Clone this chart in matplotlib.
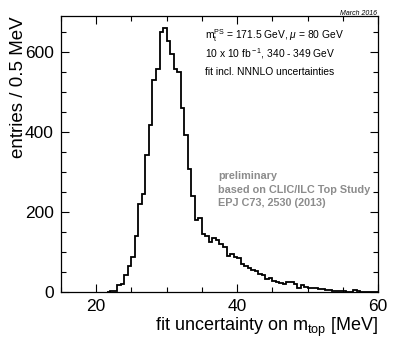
import numpy as np
import matplotlib
matplotlib.use("Agg")
import matplotlib.pyplot as plt
from matplotlib.ticker import MultipleLocator

plt.rcParams['font.family'] = ['Liberation Sans', 'DejaVu Sans']
plt.rcParams['mathtext.fontset'] = 'custom'
plt.rcParams['mathtext.rm'] = 'Liberation Sans'
plt.rcParams['mathtext.it'] = 'Liberation Sans:italic'
plt.rcParams['mathtext.bf'] = 'Liberation Sans:bold'

# histogram: 0.5 MeV bins starting at 21.5 MeV (empty elsewhere)
bin_start = 21.5
bin_width = 0.5
counts = [0, 3, 2, 17, 19, 42, 66, 87, 139, 221, 244, 342, 417, 531, 557, 650,
          661, 627, 595, 557, 550, 459, 392, 307, 240, 180, 185, 145, 141, 124,
          135, 129, 120, 112, 91, 95, 88, 86, 70, 66, 61, 55, 53, 45, 43, 32,
          34, 28, 25, 23, 19, 25, 24, 19, 11, 17, 13, 11, 11, 9, 7, 7, 4, 4,
          2, 3, 2, 2, 1, 0, 4, 3, 1, 1, 0, 1, 0]

info_lines = [r'm$_{\rm t}^{\rm PS}$ = 171.5 GeV, $\mu$ = 80 GeV',
              r'10 x 10 fb$^{\rm -1}$, 340 - 349 GeV',
              'fit incl. NNNLO uncertainties']
prelim_lines = ['preliminary', 'based on CLIC/ILC Top Study', 'EPJ C73, 2530 (2013)']

edges = bin_start + bin_width * np.arange(len(counts) + 1)

fig = plt.figure(figsize=(4.11, 3.47), dpi=100)
ax = fig.add_axes([0.148, 0.1585, 0.772, 0.7955])

ax.stairs(counts, edges, color='black', linewidth=1.3, baseline=None)

ax.set_xlim(15, 60)
ax.set_ylim(0, 690)

ax.xaxis.set_major_locator(MultipleLocator(20))
ax.xaxis.set_minor_locator(MultipleLocator(5))
ax.yaxis.set_major_locator(MultipleLocator(200))
ax.yaxis.set_minor_locator(MultipleLocator(50))
ax.tick_params(which='both', direction='in', top=True, right=True, width=0.8)
ax.tick_params(which='major', length=6, labelsize=12.5, pad=5)
ax.tick_params(which='minor', length=3.5)
for s in ax.spines.values():
    s.set_linewidth(0.9)

ax.set_xlabel(r'fit uncertainty on m$_{\rm top}$ [MeV]', fontsize=13, loc='right', labelpad=1)
ax.set_ylabel('entries / 0.5 MeV', fontsize=13.5, loc='top')
ax.yaxis.set_label_coords(-0.108, 1.0)

for i, t in enumerate(info_lines):
    ax.text(0.454, 0.928 - i * 0.066, t, transform=ax.transAxes, fontsize=7.4, va='center')

for i, t in enumerate(prelim_lines):
    ax.text(0.495, 0.42 - i * 0.049, t, transform=ax.transAxes, fontsize=7.8,
            fontweight='bold', color='#8c8c8c', va='center')

fig.text(0.917, 0.962, 'March 2016', fontsize=5, style='italic', ha='right', va='center')

fig.savefig('out.png', dpi=100)
